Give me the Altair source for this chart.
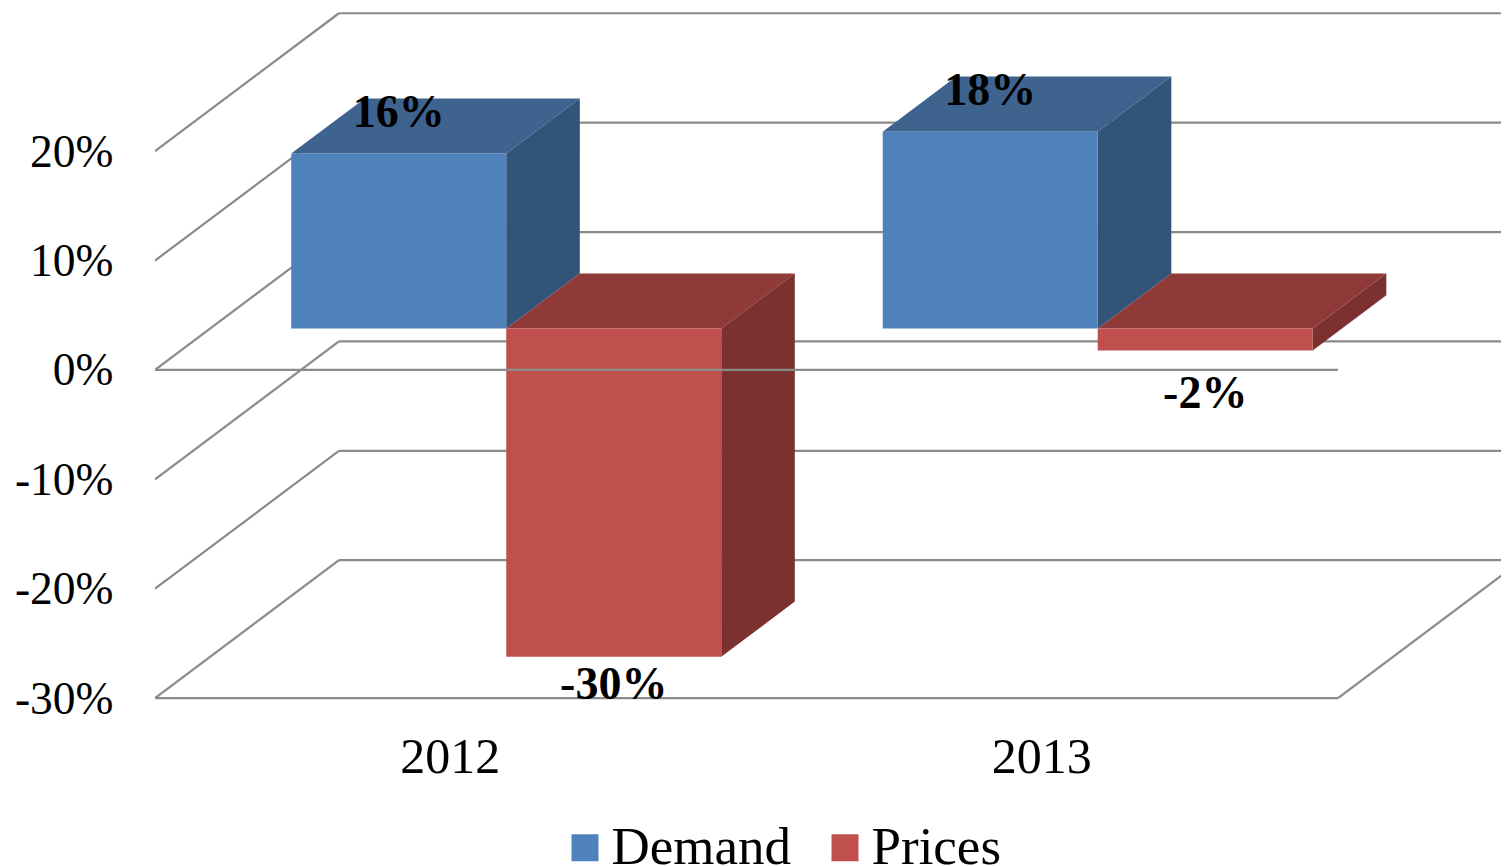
import altair as alt
import pandas as pd

# ---- chart values ----
CATEGORIES = ["2012", "2013"]
SERIES = ["Demand", "Prices"]
DEMAND = [0.16, 0.18]
PRICES = [-0.30, -0.02]
TICKS = [-0.30, -0.20, -0.10, 0.0, 0.10, 0.20]
# vertical gap between bar end and its value label (axis units)
LABEL_GAP = {"Demand": [0.0375, 0.0375], "Prices": [-0.0256, -0.0400]}

# ---- oblique projection of the 3-D box, in axis units ----
DX = 0.311      # shift in category units for full floor depth
DY = 0.1261     # shift in value units for full floor depth
BAR_FRONT, BAR_BACK = 0.3, 0.7
BAR_START = [0.137, 0.5005]   # offsets within a category
BAR_WIDTH = 0.3635

FRONT = dict(Demand="#4F81BD", Prices="#C0504D")
TOP = dict(Demand="#3F638F", Prices="#8F3A38")
SIDE = dict(Demand="#325479", Prices="#7B3130")
GRID = "#8A8A8A"
SERIF = "Liberation Serif"
n = len(CATEGORIES)

x_scale = alt.Scale(domain=[0, 2.2756], nice=False, zero=False)
y_scale = alt.Scale(domain=[-0.32, 0.3309], nice=False, zero=False)
x_axis = alt.Axis(
    values=[i + 0.5 for i in range(n)],
    labelExpr="datum.value < 1 ? '%s' : '%s'" % tuple(CATEGORIES),
    grid=False, domain=False, ticks=False,
    labelFont=SERIF, labelFontSize=50, labelColor="#000000",
    labelPadding=12, labelBaseline="top", labelOffset=-1, title=None,
)
y_axis = alt.Axis(
    values=TICKS, labelExpr="round(datum.value * 100) + '%'",
    grid=False, domain=False, ticks=False,
    labelFont=SERIF, labelFontSize=45.5, labelColor="#000000",
    labelPadding=42, labelOffset=1, title=None,
)
X = alt.X("x:Q", scale=x_scale, axis=x_axis)
Y = alt.Y("y:Q", scale=y_scale, axis=y_axis, stack=None)


def px(x, depth):
    return x + depth * DX


def py(v, depth):
    return v + depth * DY


# ---- walls and floor ----
grid_rows = []
for t in TICKS:
    grid_rows += [
        dict(id=f"wall{t}", x=px(0, 0), y=py(t, 0)),
        dict(id=f"wall{t}", x=px(0, 1), y=py(t, 1)),
        dict(id=f"back{t}", x=px(0, 1), y=py(t, 1)),
        dict(id=f"back{t}", x=px(n, 1), y=py(t, 1)),
    ]
floor = TICKS[0]
grid_rows += [
    dict(id="floorfront", x=px(0, 0), y=py(floor, 0)),
    dict(id="floorfront", x=px(n, 0), y=py(floor, 0)),
    dict(id="floorright", x=px(n, 0), y=py(floor, 0)),
    dict(id="floorright", x=px(n, 1), y=py(floor, 1)),
]
grid = (
    alt.Chart(pd.DataFrame(grid_rows))
    .mark_line(color=GRID, strokeWidth=2.2, clip=True)
    .encode(x=X, y=Y, detail="id:N")
)

# ---- box faces ----
values = dict(Demand=DEMAND, Prices=PRICES)
face_layers = []
front_rows = []
label_rows = []
for s_i, s in enumerate(SERIES):
    top_rows, side_rows = [], []
    for c_i, cat in enumerate(CATEGORIES):
        v = values[s][c_i]
        hi, lo = max(v, 0), min(v, 0)
        x0 = c_i + BAR_START[s_i]
        x1 = x0 + BAR_WIDTH
        bar = f"{s}{cat}"
        for d in (BAR_FRONT, BAR_BACK):
            top_rows.append(dict(id=bar, y=py(hi, d), x=px(x0, d), x2=px(x1, d)))
            side_rows.append(dict(id=bar, x=px(x1, d), y=py(lo, d), y2=py(hi, d)))
        front_rows.append(dict(
            series=s, x=px(x0, BAR_FRONT), x2=px(x1, BAR_FRONT),
            y=py(lo, BAR_FRONT), y2=py(hi, BAR_FRONT),
        ))
        label_rows.append(dict(
            x=px((x0 + x1) / 2, BAR_FRONT),
            y=py(v, BAR_FRONT) + LABEL_GAP[s][c_i],
            text=f"{v:.0%}",
        ))
    face_layers.append(
        alt.Chart(pd.DataFrame(top_rows))
        .mark_area(color=TOP[s], orient="horizontal")
        .encode(x=X, x2="x2:Q", y=Y, detail="id:N")
    )
    face_layers.append(
        alt.Chart(pd.DataFrame(side_rows))
        .mark_area(color=SIDE[s], orient="vertical")
        .encode(x=X, y=Y, y2="y2:Q", detail="id:N")
    )

fronts = (
    alt.Chart(pd.DataFrame(front_rows))
    .mark_rect()
    .encode(
        x=X, x2="x2:Q", y=Y, y2="y2:Q",
        color=alt.Color(
            "series:N",
            scale=alt.Scale(domain=SERIES, range=[FRONT[s] for s in SERIES]),
            legend=alt.Legend(
                title=None, orient="none", direction="horizontal", columns=2,
                legendX=403.5, legendY=813,
                symbolType="square", symbolSize=729, symbolStrokeWidth=0,
                labelFont=SERIF, labelFontSize=53, labelColor="#000000",
                labelOffset=0, columnPadding=27, symbolOpacity=1,
                labelLimit=400,
            ),
        ),
    )
)

# ---- the 0% front line sits over the boxes ----
zero_line = (
    alt.Chart(pd.DataFrame([
        dict(x=px(0, 0), y=py(0, 0)),
        dict(x=px(n, 0), y=py(0, 0)),
    ]))
    .mark_line(color=GRID, strokeWidth=2.2)
    .encode(x=X, y=Y)
)

labels = (
    alt.Chart(pd.DataFrame(label_rows))
    .mark_text(font=SERIF, fontSize=46, fontWeight="bold", color="#000000",
               align="center", baseline="middle")
    .encode(x=X, y=Y, text="text:N")
)

chart = (
    alt.layer(grid, *face_layers, fronts, zero_line, labels)
    .properties(
        width=1346, height=712,
        autosize=alt.AutoSizeParams(type="none"),
        padding={"left": 147, "top": 0, "right": 0, "bottom": 146},
    )
    .configure_view(stroke=None)
)

chart.save("out.html", embed_options={"renderer": "svg", "actions": False})
